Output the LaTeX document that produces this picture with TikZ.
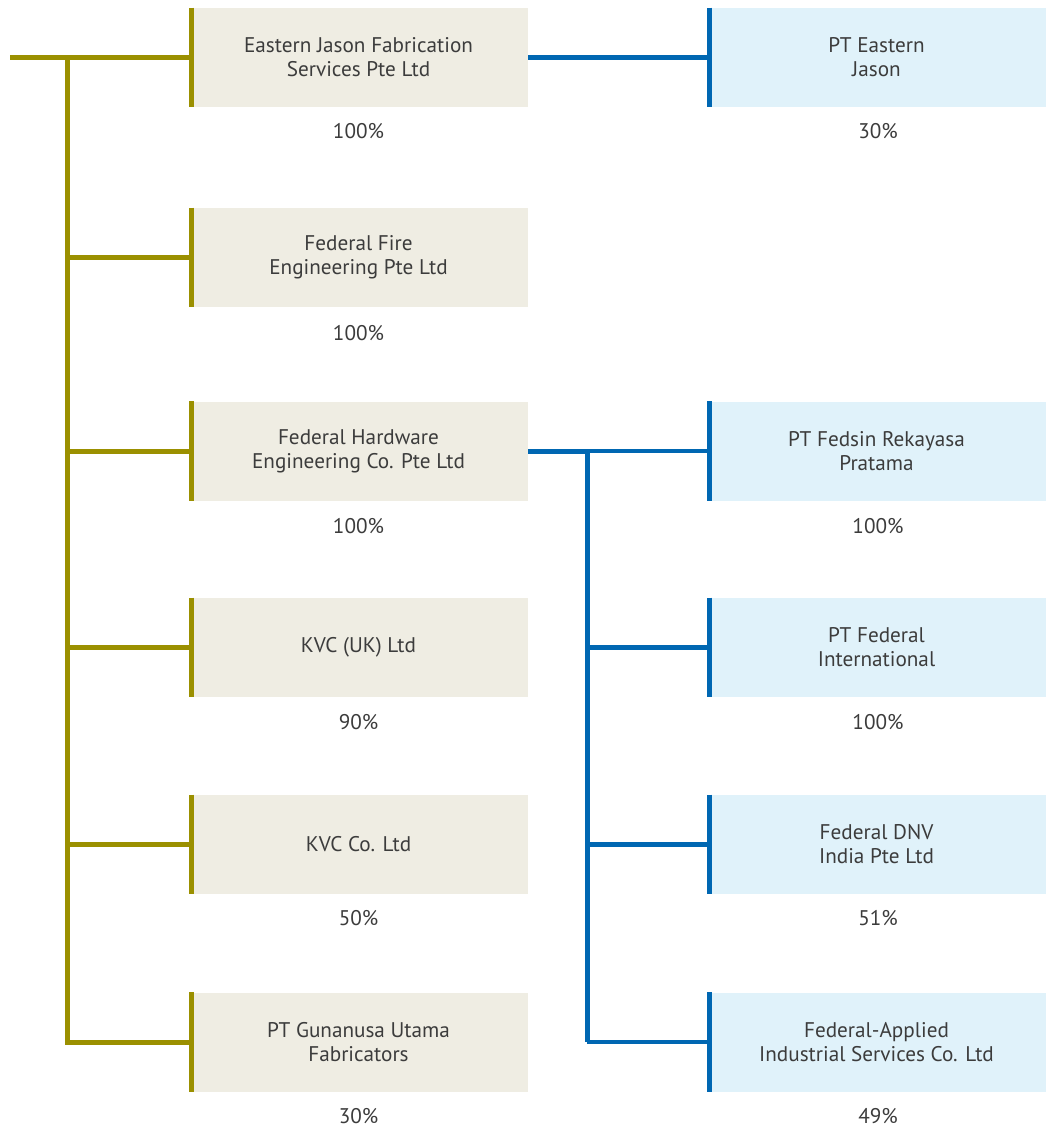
\documentclass[tikz,border=0pt]{standalone}
\usepackage{fontspec}
\setmainfont{PT Sans}
\definecolor{oliveline}{HTML}{9B9000}
\definecolor{beigebox}{HTML}{EFEDE3}
\definecolor{blueline}{HTML}{0067B2}
\definecolor{bluebox}{HTML}{E0F2FA}
\definecolor{textgray}{HTML}{3C3C3C}
\begin{document}
\begin{tikzpicture}[x=0.75pt,y=-0.75pt,
  basebox/.style={rectangle, inner sep=0pt, minimum width=254.25pt, minimum height=74.25pt,
    align=center, text=textgray, font=\fontsize{15.9}{18}\selectfont},
  lbox/.style={basebox, fill=beigebox},
  rbox/.style={basebox, fill=bluebox},
  pct/.style={text=textgray, font=\fontsize{15.9}{18}\selectfont, inner sep=0pt},
  olline/.style={oliveline, line width=3.75pt},
  blline/.style={blueline, line width=3.75pt},
  blthin/.style={blueline, line width=3.2pt}
]
\useasboundingbox (0,0) rectangle (1046,1128);

% left boxes
\node[lbox] (b1) at (358.5,57.5) {Eastern Jason Fabrication\\Services Pte Ltd};
\node[lbox] (b2) at (358.5,257.5) {Federal Fire\\Engineering Pte Ltd};
\node[lbox] (b3) at (358.5,451) {Federal Hardware\\Engineering Co. Pte Ltd};
\node[lbox] (b4) at (358.5,647.5) {KVC (UK) Ltd};
\node[lbox] (b5) at (358.5,844.5) {KVC Co. Ltd};
\node[lbox] (b6) at (358.5,1042) {PT Gunanusa Utama\\Fabricators};

% right boxes
\node[rbox] (r1) at (876.5,57.5) {PT Eastern\\Jason};
\node[rbox] (r3) at (876.5,451) {PT Fedsin Rekayasa\\Pratama};
\node[rbox] (r4) at (876.5,647.5) {PT Federal\\International};
\node[rbox] (r5) at (876.5,844.5) {Federal DNV\\India Pte Ltd};
\node[rbox] (r6) at (876.5,1042) {Federal-Applied\\Industrial Services Co. Ltd};

% percentages
\node[pct] (p1) at (358.5,131) {100\%};
\node[pct] (p2) at (358.5,333) {100\%};
\node[pct] (p3) at (358.5,526) {100\%};
\node[pct] (p4) at (358.5,722) {90\%};
\node[pct] (p5) at (358.5,918) {50\%};
\node[pct] (p6) at (358.5,1116) {30\%};
\node[pct] (q1) at (878,131) {30\%};
\node[pct] (q3) at (878,526) {100\%};
\node[pct] (q4) at (878,722) {100\%};
\node[pct] (q5) at (878,918) {51\%};
\node[pct] (q6) at (878,1116) {49\%};

% olive tree
\coordinate (root) at (10,57.5);
\coordinate (oj) at (67.5,57.5);
\draw[olline] (root) -- (b1.west);
\draw[olline] (oj) -- (67.5,1042);
\foreach \b in {b2,b3,b4,b5,b6}{
  \draw[olline] (oj) |- (\b.west);
}
\foreach \b in {b1,b2,b3,b4,b5,b6}{
  \draw[olline] ([xshift=1.875pt]\b.north west) -- ([xshift=1.875pt]\b.south west);
}

% blue tree
\draw[blline] (b1.east) -- (r1.west);
\coordinate (bj) at (587,451);
\draw[blline] (b3.east) -- (bj);
\draw[blthin] (bj) -- (r3.west);
\draw[blline] (bj) -- (587,1042);
\foreach \r in {r4,r5,r6}{
  \draw[blthin] (587,0 |- \r.west) -- (\r.west);
}
\foreach \r in {r1,r3,r4,r5,r6}{
  \draw[blline] ([xshift=1.875pt]\r.north west) -- ([xshift=1.875pt]\r.south west);
}
\end{tikzpicture}
\end{document}
